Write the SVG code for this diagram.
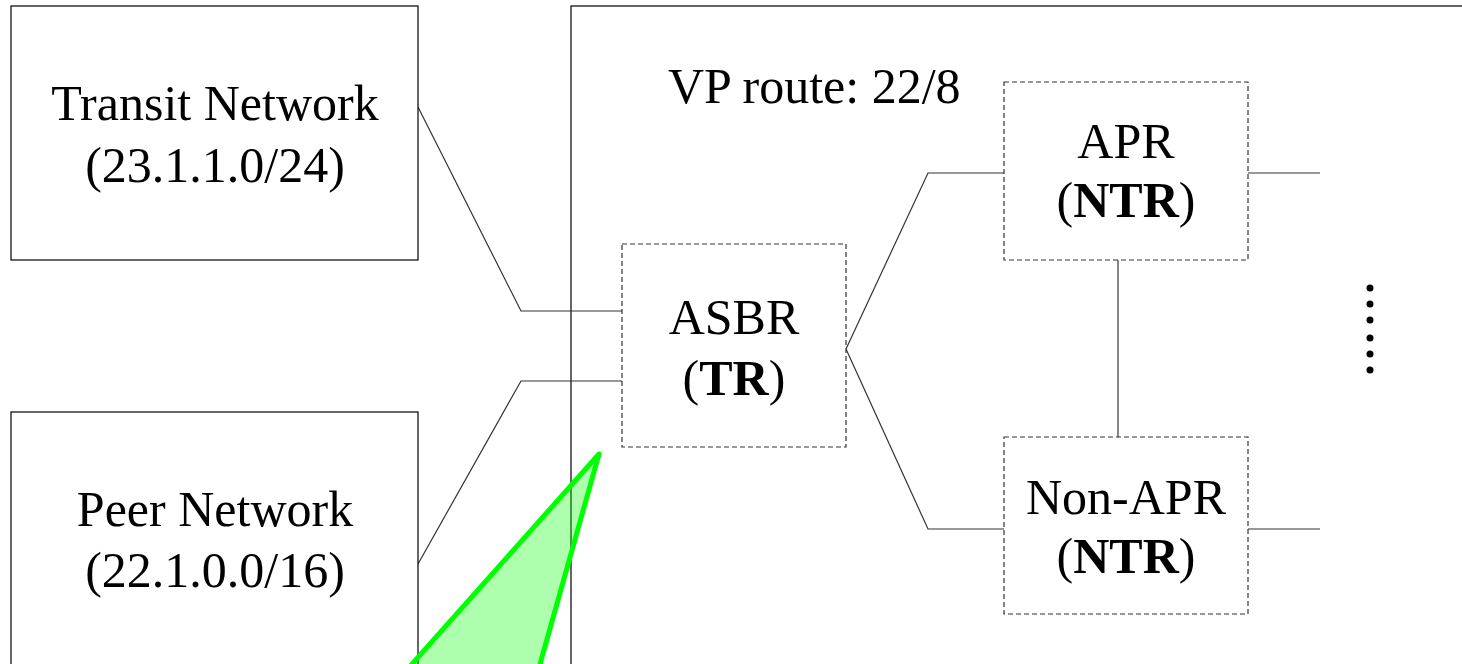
<svg xmlns="http://www.w3.org/2000/svg" width="1462" height="664" viewBox="0 0 1462 664">
<style>
.box{fill:#fff;stroke:#000;stroke-width:1.2}
.dbox{fill:#fff;stroke:#333;stroke-width:1.2;stroke-dasharray:5,3}
.t{font-family:"Liberation Serif","Times New Roman",serif;font-size:50px;fill:#000;text-anchor:middle}
.c{fill:none;stroke:#333;stroke-width:1.2}
</style>
<rect x="0" y="0" width="1462" height="664" fill="#fff"/>
<g id="domain"><rect class="box" x="571" y="6" width="900" height="670"/>
<text class="t" x="668" y="103" style="text-anchor:start">VP route: 22/8</text></g>
<g id="connectors">
<polyline class="c" points="418,107 521,311 622,311"/>
<polyline class="c" points="418,564 521,381 622,381"/>
<polyline class="c" points="1004,173 928,173 846,349 928,529 1004,529"/>
<line class="c" x1="1248" y1="173" x2="1320" y2="173"/>
<line class="c" x1="1248" y1="529" x2="1320" y2="529"/>
<line class="c" x1="1118" y1="260" x2="1118" y2="437"/>
</g>
<g id="transit"><rect class="box" x="11" y="6" width="407" height="254"/>
<text class="t" x="215" y="120">Transit Network</text><text class="t" x="215" y="182">(23.1.1.0/24)</text></g>
<g id="peer"><rect class="box" x="11" y="412" width="407" height="270"/>
<text class="t" x="215" y="526">Peer Network</text><text class="t" x="215" y="587">(22.1.0.0/16)</text></g>
<g id="asbr"><rect class="dbox" x="622" y="244" width="224" height="203"/>
<text class="t" x="734" y="334">ASBR</text><text class="t" x="734" y="395">(<tspan font-weight="bold">TR</tspan>)</text></g>
<g id="apr"><rect class="dbox" x="1004" y="82" width="244" height="178"/>
<text class="t" x="1126" y="158">APR</text><text class="t" x="1126" y="217">(<tspan font-weight="bold">NTR</tspan>)</text></g>
<g id="nonapr"><rect class="dbox" x="1004" y="437" width="244" height="177"/>
<text class="t" x="1126" y="514">Non-APR</text><text class="t" x="1126" y="573">(<tspan font-weight="bold">NTR</tspan>)</text></g>
<g id="dots" fill="#000">
<circle cx="1370" cy="288" r="3.5"/><circle cx="1370" cy="304" r="3.5"/><circle cx="1370" cy="320" r="3.5"/>
<circle cx="1370" cy="338" r="3.5"/><circle cx="1370" cy="354" r="3.5"/><circle cx="1370" cy="370" r="3.5"/>
</g>
<g id="pointer"><polygon points="599,454 380,700 530,700" fill="#00ff00" fill-opacity="0.32" stroke="#00ff00" stroke-width="5" stroke-linejoin="round"/></g>
</svg>
